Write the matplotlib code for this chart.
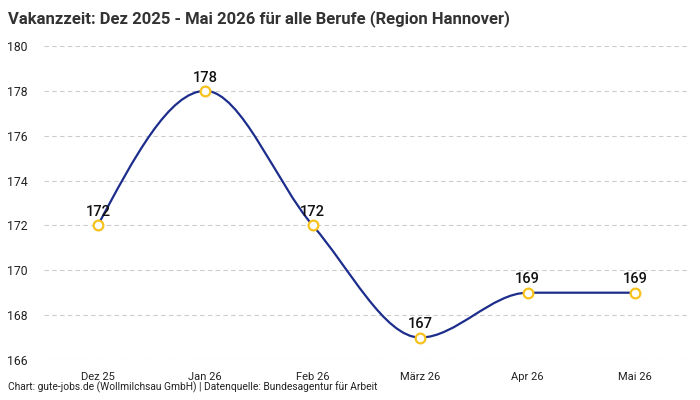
import numpy as np
import matplotlib
matplotlib.use("Agg")
import matplotlib.pyplot as plt
from matplotlib.path import Path
from matplotlib.patches import PathPatch

months = ["Dez 25", "Jan 26", "Feb 26", "März 26", "Apr 26", "Mai 26"]
values = [172, 178, 172, 167, 169, 169]
y_ticks = [166, 168, 170, 172, 174, 176, 178, 180]

title = "Vakanzzeit: Dez 2025 - Mai 2026 für alle Berufe (Region Hannover)"
footer = "Chart: gute-jobs.de (Wollmilchsau GmbH) | Datenquelle: Bundesagentur für Arbeit"

LINE = "#1c2d8c"
MARK = "#f7c21b"
FONT = ["Roboto", "DejaVu Sans"]
plt.rcParams["font.family"] = FONT


def monotone_path(xs, ys):
    # d3 curveMonotoneX style cubic Bezier path
    xs = np.asarray(xs, float)
    ys = np.asarray(ys, float)
    n = len(xs)
    h = np.diff(xs)
    s = np.diff(ys) / h
    t = np.zeros(n)
    for i in range(1, n - 1):
        p = (s[i - 1] * h[i] + s[i] * h[i - 1]) / (h[i - 1] + h[i])
        t[i] = (np.sign(s[i - 1]) + np.sign(s[i])) * min(abs(s[i - 1]), abs(s[i]), 0.5 * abs(p))
    t[0] = (3 * s[0] - t[1]) / 2
    t[-1] = (3 * s[-1] - t[-2]) / 2
    verts = [(xs[0], ys[0])]
    codes = [Path.MOVETO]
    for i in range(n - 1):
        dx = (xs[i + 1] - xs[i]) / 3
        verts += [(xs[i] + dx, ys[i] + dx * t[i]),
                  (xs[i + 1] - dx, ys[i + 1] - dx * t[i + 1]),
                  (xs[i + 1], ys[i + 1])]
        codes += [Path.CURVE4] * 3
    return Path(verts, codes)


fig = plt.figure(figsize=(7, 4), dpi=100)
ax = fig.add_axes([0.063, 0.1, 0.921, 0.785])

x = np.arange(len(months))
ax.add_patch(PathPatch(monotone_path(x, values), facecolor="none",
                       edgecolor=LINE, lw=1.6, zorder=3))
ax.plot(x, values, linestyle="none", marker="o", ms=7, mfc="white",
        mec=MARK, mew=1.6, zorder=4)
for xi, v in zip(x, values):
    ax.annotate(str(v), (xi, v), xytext=(0, 4.5), textcoords="offset points",
                ha="center", va="bottom", fontsize=10.5, fontweight="medium",
                color="#111111", zorder=5)

ax.set_xlim(-0.5, len(months) - 0.5)
ax.set_ylim(166, 180)
ax.set_yticks(y_ticks)
ax.set_xticks(x)
ax.set_xticklabels(months)
ax.tick_params(axis="both", length=0, labelsize=8, colors="#222222")
ax.tick_params(axis="y", pad=12, labelsize=8.8)
ax.tick_params(axis="x", pad=9)
ax.grid(axis="y", color="#cccccc", linestyle=(0, (4, 3)), lw=0.8)
ax.set_axisbelow(True)
for sp in ax.spines.values():
    sp.set_visible(False)

fig.text(0.011, 0.975, title, fontsize=12, fontweight="bold", color="#333333",
         ha="left", va="top")
fig.text(0.011, 0.018, footer, fontsize=7.4, color="#222222", ha="left", va="bottom")

fig.savefig("out.png", dpi=100, facecolor="white")
